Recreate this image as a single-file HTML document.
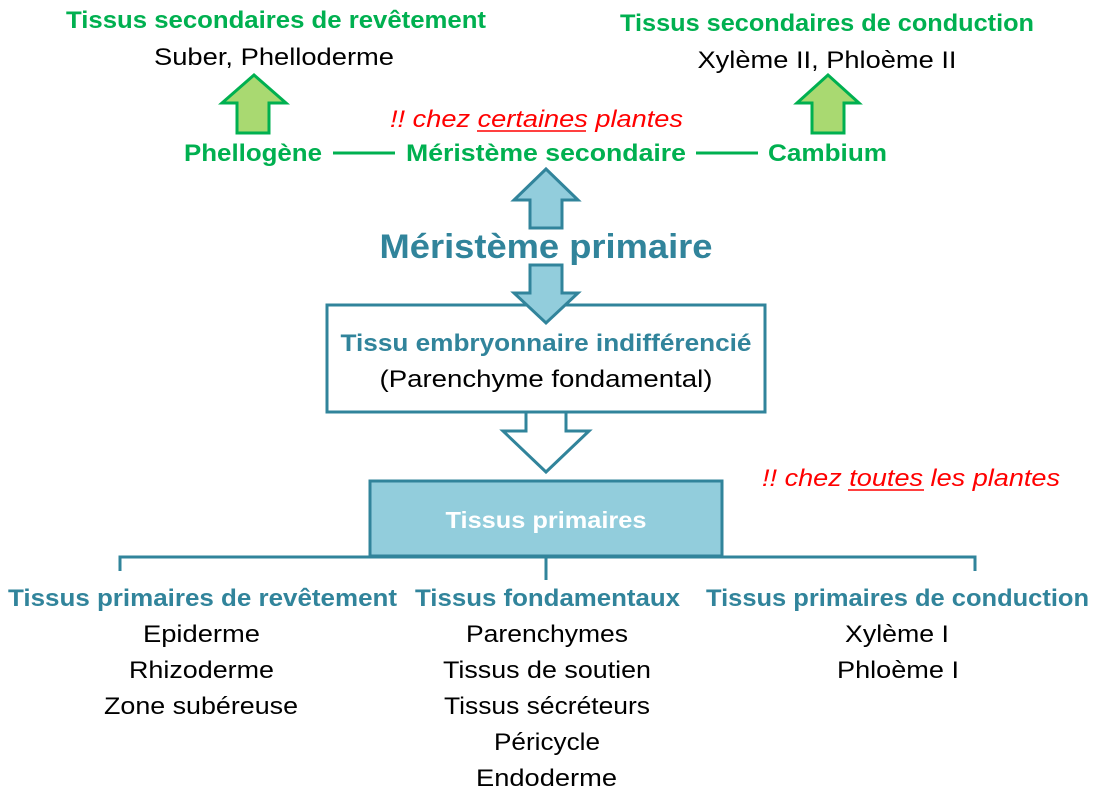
<!DOCTYPE html>
<html><head><meta charset="utf-8"><style>
html,body{margin:0;padding:0;background:#fff;}
svg{display:block;}
text{font-family:"Liberation Sans",sans-serif;}
.g{fill:#00B050;font-weight:bold;font-size:24px;}
.t{fill:#31849B;font-weight:bold;font-size:24px;}
.k{fill:#000;font-size:24px;}
.r{fill:#FF0000;font-style:italic;font-size:24px;}
</style></head><body>
<svg width="1094" height="792" viewBox="0 0 1094 792" xmlns="http://www.w3.org/2000/svg">
<text class="g" x="276" y="28" text-anchor="middle" textLength="420" lengthAdjust="spacingAndGlyphs">Tissus secondaires de revêtement</text>
<text class="k" x="274" y="65" text-anchor="middle" textLength="240" lengthAdjust="spacingAndGlyphs">Suber, Phelloderme</text>
<text class="g" x="827" y="31" text-anchor="middle" textLength="414" lengthAdjust="spacingAndGlyphs">Tissus secondaires de conduction</text>
<text class="k" x="827" y="68" text-anchor="middle" textLength="259" lengthAdjust="spacingAndGlyphs">Xylème II, Phloème II</text>
<polygon points="254,75 222,103 237,103 237,133 269,133 269,103 286,103" fill="#A9D971" stroke="#00B050" stroke-width="3"/>
<polygon points="828,75 797,103 812,103 812,133 844,133 844,103 859,103" fill="#A9D971" stroke="#00B050" stroke-width="3"/>
<text class="r" x="390" y="127" textLength="293" lengthAdjust="spacingAndGlyphs">!! chez certaines plantes</text>
<line x1="477" y1="131" x2="586" y2="131" stroke="#FF0000" stroke-width="1.5"/>
<text class="g" x="184" y="161" textLength="138" lengthAdjust="spacingAndGlyphs">Phellogène</text>
<line x1="333" y1="153" x2="395" y2="153" stroke="#00B050" stroke-width="3"/>
<text class="g" x="406" y="161" textLength="280" lengthAdjust="spacingAndGlyphs">Méristème secondaire</text>
<line x1="696" y1="153" x2="758" y2="153" stroke="#00B050" stroke-width="3"/>
<text class="g" x="768" y="161" textLength="119" lengthAdjust="spacingAndGlyphs">Cambium</text>
<polygon points="546,169 514,200 530,200 530,228 562,228 562,200 578,200" fill="#92CDDC" stroke="#31849B" stroke-width="3"/>
<text class="t" x="546" y="258" text-anchor="middle" style="font-size:34px" textLength="333" lengthAdjust="spacingAndGlyphs">Méristème primaire</text>
<rect x="327" y="305" width="438" height="107" fill="#fff" stroke="#31849B" stroke-width="3"/>
<polygon points="530,265 562,265 562,293 578,293 546,323 514,293 530,293" fill="#92CDDC" stroke="#31849B" stroke-width="3"/>
<text class="t" x="546" y="351" text-anchor="middle" textLength="411" lengthAdjust="spacingAndGlyphs">Tissu embryonnaire indifférencié</text>
<text class="k" x="546" y="387" text-anchor="middle" textLength="333" lengthAdjust="spacingAndGlyphs">(Parenchyme fondamental)</text>
<polygon points="526,412 566,412 566,431 589,431 546,472 503,431 526,431" fill="#fff" stroke="#31849B" stroke-width="3"/>
<rect x="370" y="481" width="352" height="75" fill="#92CDDC" stroke="#31849B" stroke-width="3"/>
<text x="546" y="528" text-anchor="middle" fill="#fff" font-weight="bold" font-size="23" textLength="201" lengthAdjust="spacingAndGlyphs">Tissus primaires</text>
<text class="r" x="762" y="486" textLength="298" lengthAdjust="spacingAndGlyphs">!! chez toutes les plantes</text>
<line x1="848" y1="490" x2="924" y2="490" stroke="#FF0000" stroke-width="1.5"/>
<path d="M120,571 V557 H975 V571 M546,557 V580" fill="none" stroke="#31849B" stroke-width="3"/>
<text class="t" x="8" y="606" textLength="389" lengthAdjust="spacingAndGlyphs">Tissus primaires de revêtement</text>
<text class="t" x="415" y="606" textLength="265" lengthAdjust="spacingAndGlyphs">Tissus fondamentaux</text>
<text class="t" x="706" y="606" textLength="383" lengthAdjust="spacingAndGlyphs">Tissus primaires de conduction</text>
<text class="k" x="143" y="642" textLength="117" lengthAdjust="spacingAndGlyphs">Epiderme</text>
<text class="k" x="129" y="678" textLength="145" lengthAdjust="spacingAndGlyphs">Rhizoderme</text>
<text class="k" x="104" y="714" textLength="194" lengthAdjust="spacingAndGlyphs">Zone subéreuse</text>
<text class="k" x="466" y="642" textLength="162" lengthAdjust="spacingAndGlyphs">Parenchymes</text>
<text class="k" x="443" y="678" textLength="208" lengthAdjust="spacingAndGlyphs">Tissus de soutien</text>
<text class="k" x="444" y="714" textLength="206" lengthAdjust="spacingAndGlyphs">Tissus sécréteurs</text>
<text class="k" x="494" y="750" textLength="106" lengthAdjust="spacingAndGlyphs">Péricycle</text>
<text class="k" x="476" y="786" textLength="141" lengthAdjust="spacingAndGlyphs">Endoderme</text>
<text class="k" x="845" y="642" textLength="104" lengthAdjust="spacingAndGlyphs">Xylème I</text>
<text class="k" x="837" y="678" textLength="122" lengthAdjust="spacingAndGlyphs">Phloème I</text>
</svg>
</body></html>
